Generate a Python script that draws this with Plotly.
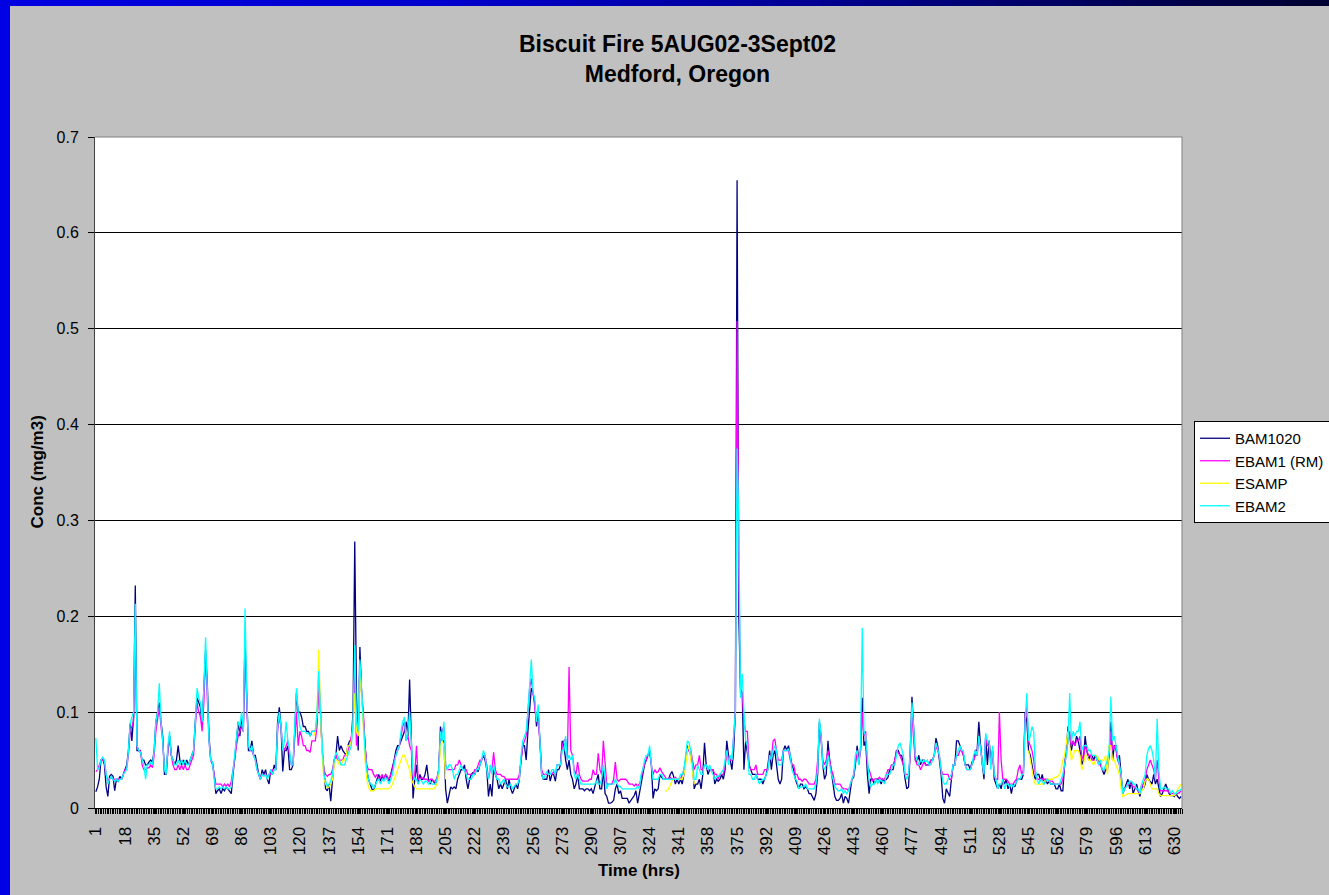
import plotly.graph_objects as go

# ---------------- data ----------------
hours = list(range(1, 635))
tick_labels = [1, 18, 35, 52, 69, 86, 103, 120, 137, 154, 171, 188, 205, 222, 239, 256,
               273, 290, 307, 324, 341, 358, 375, 392, 409, 426, 443, 460, 477, 494, 511,
               528, 545, 562, 579, 596, 613, 630]

bam1020 = [
    0.017, 0.022, 0.030, 0.050, 0.052, 0.045, 0.022, 0.012, 0.033, 0.035,
    0.033, 0.018, 0.030, 0.028, 0.033, 0.030, 0.035, 0.040, 0.045, 0.060,
    0.088, 0.070, 0.095, 0.232, 0.060, 0.060, 0.058, 0.050, 0.050, 0.045,
    0.045, 0.048, 0.050, 0.048, 0.060, 0.090, 0.100, 0.110, 0.090, 0.075,
    0.035, 0.035, 0.060, 0.075, 0.055, 0.050, 0.045, 0.050, 0.065, 0.050,
    0.045, 0.050, 0.045, 0.050, 0.045, 0.050, 0.055, 0.060, 0.090, 0.115,
    0.110, 0.105, 0.085, 0.120, 0.165, 0.130, 0.075, 0.050, 0.048, 0.035,
    0.015, 0.018, 0.020, 0.015, 0.020, 0.018, 0.022, 0.020, 0.018, 0.015,
    0.035, 0.050, 0.070, 0.090, 0.075, 0.095, 0.080, 0.178, 0.120, 0.060,
    0.060, 0.070, 0.055, 0.055, 0.045, 0.035, 0.030, 0.040, 0.035, 0.040,
    0.030, 0.025, 0.040, 0.035, 0.045, 0.040, 0.090, 0.105, 0.085, 0.038,
    0.060, 0.060, 0.065, 0.040, 0.040, 0.045, 0.080, 0.120, 0.100, 0.100,
    0.095, 0.085, 0.085, 0.080, 0.080, 0.075, 0.080, 0.080, 0.080, 0.090,
    0.140, 0.100, 0.060, 0.040, 0.020, 0.018, 0.025, 0.007, 0.025, 0.050,
    0.055, 0.075, 0.060, 0.065, 0.060, 0.058, 0.055, 0.065, 0.070, 0.070,
    0.100, 0.278, 0.120, 0.060, 0.168, 0.120, 0.090, 0.060, 0.040, 0.030,
    0.025, 0.020, 0.018, 0.025, 0.030, 0.035, 0.028, 0.033, 0.030, 0.035,
    0.030, 0.028, 0.035, 0.040, 0.050, 0.060, 0.065, 0.065, 0.070, 0.075,
    0.080, 0.090, 0.075, 0.134, 0.060, 0.010, 0.030, 0.045, 0.025, 0.035,
    0.030, 0.030, 0.035, 0.045, 0.030, 0.025, 0.030, 0.028, 0.025, 0.030,
    0.040, 0.085, 0.070, 0.070, 0.020, 0.005, 0.015, 0.022, 0.020, 0.022,
    0.020, 0.030, 0.035, 0.040, 0.040, 0.045, 0.030, 0.020, 0.030, 0.035,
    0.037, 0.035, 0.040, 0.038, 0.045, 0.050, 0.055, 0.050, 0.040, 0.012,
    0.025, 0.012, 0.040, 0.035, 0.030, 0.020, 0.025, 0.020, 0.025, 0.030,
    0.020, 0.030, 0.020, 0.015, 0.020, 0.025, 0.020, 0.030, 0.050, 0.065,
    0.065, 0.050, 0.080, 0.100, 0.125, 0.120, 0.110, 0.085, 0.100, 0.070,
    0.035, 0.030, 0.030, 0.030, 0.040, 0.028, 0.035, 0.035, 0.028, 0.040,
    0.040, 0.045, 0.070, 0.065, 0.050, 0.040, 0.050, 0.035, 0.030, 0.020,
    0.025, 0.035, 0.020, 0.020, 0.020, 0.018, 0.020, 0.020, 0.018, 0.020,
    0.015, 0.022, 0.030, 0.035, 0.020, 0.020, 0.040, 0.015, 0.012, 0.005,
    0.005, 0.006, 0.008, 0.020, 0.025, 0.015, 0.018, 0.010, 0.010, 0.010,
    0.010, 0.005, 0.008, 0.010, 0.013, 0.018, 0.005, 0.015, 0.025, 0.035,
    0.045, 0.050, 0.055, 0.060, 0.045, 0.010, 0.020, 0.018, 0.020, 0.035,
    0.032, 0.030, 0.030, 0.030, 0.030, 0.035, 0.038, 0.033, 0.025, 0.030,
    0.025, 0.030, 0.025, 0.035, 0.050, 0.065, 0.060, 0.055, 0.045, 0.020,
    0.025, 0.025, 0.030, 0.020, 0.035, 0.068, 0.045, 0.035, 0.040, 0.040,
    0.040, 0.025, 0.030, 0.028, 0.030, 0.035, 0.030, 0.040, 0.070, 0.055,
    0.050, 0.040, 0.060, 0.100, 0.655, 0.200, 0.125, 0.120, 0.040, 0.070,
    0.055, 0.045, 0.040, 0.035, 0.035, 0.035, 0.030, 0.030, 0.030, 0.025,
    0.030, 0.035, 0.045, 0.060, 0.040, 0.055, 0.060, 0.045, 0.030, 0.025,
    0.030, 0.060, 0.065, 0.060, 0.065, 0.055, 0.045, 0.040, 0.030, 0.025,
    0.020, 0.025, 0.025, 0.020, 0.022, 0.020, 0.015, 0.015, 0.012, 0.008,
    0.015, 0.035, 0.090, 0.075, 0.045, 0.030, 0.035, 0.070, 0.050, 0.035,
    0.025, 0.012, 0.008, 0.008, 0.010, 0.015, 0.005, 0.012, 0.010, 0.005,
    0.018, 0.030, 0.032, 0.045, 0.065, 0.050, 0.060, 0.115, 0.065, 0.070,
    0.035, 0.015, 0.030, 0.030, 0.025, 0.030, 0.030, 0.030, 0.025, 0.030,
    0.028, 0.030, 0.032, 0.040, 0.040, 0.040, 0.050, 0.060, 0.060, 0.055,
    0.055, 0.045, 0.030, 0.020, 0.022, 0.060, 0.116, 0.075, 0.050, 0.048,
    0.055, 0.045, 0.050, 0.050, 0.045, 0.045, 0.045, 0.050, 0.050, 0.055,
    0.073, 0.065, 0.050, 0.035, 0.010, 0.005, 0.020, 0.015, 0.012, 0.030,
    0.045, 0.045, 0.070, 0.070, 0.065, 0.060, 0.055, 0.045, 0.045, 0.045,
    0.040, 0.048, 0.050, 0.060, 0.060, 0.090, 0.065, 0.050, 0.030, 0.075,
    0.045, 0.070, 0.050, 0.060, 0.030, 0.025, 0.020, 0.025, 0.020, 0.030,
    0.025, 0.030, 0.020, 0.025, 0.015, 0.025, 0.022, 0.028, 0.030, 0.030,
    0.030, 0.035, 0.100, 0.090, 0.060, 0.055, 0.045, 0.035, 0.030, 0.035,
    0.035, 0.028, 0.035, 0.025, 0.030, 0.025, 0.028, 0.025, 0.025, 0.025,
    0.020, 0.020, 0.025, 0.018, 0.018, 0.045, 0.060, 0.085, 0.070, 0.060,
    0.070, 0.065, 0.075, 0.070, 0.060, 0.045, 0.050, 0.075, 0.060, 0.050,
    0.055, 0.055, 0.050, 0.055, 0.050, 0.050, 0.045, 0.040, 0.035, 0.040,
    0.040, 0.055, 0.090, 0.050, 0.065, 0.065, 0.050, 0.055, 0.035, 0.015,
    0.020, 0.025, 0.030, 0.020, 0.028, 0.015, 0.020, 0.025, 0.018, 0.012,
    0.025, 0.020, 0.025, 0.035, 0.030, 0.028, 0.025, 0.035, 0.025, 0.030,
    0.020, 0.012, 0.015, 0.020, 0.025, 0.020, 0.015, 0.013, 0.013, 0.012,
    0.015, 0.012, 0.010, 0.012,
]

ebam1_rm = [
    0.038, 0.040, 0.045, 0.050, 0.050, 0.048, 0.035, 0.028, 0.030, 0.032,
    0.030, 0.030, 0.030, 0.030, 0.030, 0.030, 0.035, 0.040, 0.042, 0.055,
    0.080, 0.085, 0.090, 0.180, 0.065, 0.060, 0.060, 0.045, 0.040, 0.040,
    0.042, 0.042, 0.045, 0.042, 0.055, 0.080, 0.095, 0.105, 0.085, 0.070,
    0.040, 0.035, 0.060, 0.075, 0.055, 0.045, 0.040, 0.040, 0.045, 0.040,
    0.045, 0.040, 0.045, 0.040, 0.040, 0.045, 0.050, 0.055, 0.085, 0.110,
    0.100, 0.095, 0.080, 0.110, 0.160, 0.120, 0.070, 0.050, 0.045, 0.035,
    0.025, 0.025, 0.025, 0.025, 0.022, 0.025, 0.023, 0.025, 0.022, 0.028,
    0.040, 0.050, 0.065, 0.075, 0.080, 0.085, 0.080, 0.165, 0.110, 0.065,
    0.060, 0.060, 0.055, 0.050, 0.040, 0.035, 0.030, 0.035, 0.035, 0.035,
    0.032, 0.035, 0.035, 0.040, 0.040, 0.040, 0.080, 0.095, 0.085, 0.065,
    0.060, 0.065, 0.070, 0.055, 0.045, 0.045, 0.080, 0.100, 0.065, 0.080,
    0.075, 0.065, 0.065, 0.060, 0.060, 0.058, 0.070, 0.070, 0.070, 0.085,
    0.130, 0.100, 0.060, 0.040, 0.035, 0.033, 0.035, 0.035, 0.040, 0.050,
    0.055, 0.050, 0.050, 0.050, 0.050, 0.055, 0.055, 0.060, 0.065, 0.075,
    0.085, 0.140, 0.065, 0.085, 0.150, 0.120, 0.100, 0.065, 0.045, 0.040,
    0.040, 0.040, 0.035, 0.032, 0.035, 0.030, 0.032, 0.035, 0.030, 0.035,
    0.033, 0.030, 0.035, 0.040, 0.050, 0.055, 0.060, 0.065, 0.075, 0.085,
    0.090, 0.070, 0.075, 0.065, 0.060, 0.030, 0.035, 0.065, 0.030, 0.030,
    0.032, 0.030, 0.030, 0.030, 0.028, 0.030, 0.030, 0.028, 0.028, 0.032,
    0.040, 0.075, 0.080, 0.085, 0.045, 0.040, 0.040, 0.040, 0.040, 0.040,
    0.045, 0.045, 0.050, 0.045, 0.040, 0.040, 0.040, 0.035, 0.035, 0.035,
    0.035, 0.040, 0.040, 0.045, 0.050, 0.050, 0.055, 0.055, 0.045, 0.030,
    0.040, 0.040, 0.058, 0.040, 0.035, 0.035, 0.035, 0.033, 0.033, 0.030,
    0.030, 0.030, 0.030, 0.030, 0.030, 0.030, 0.030, 0.035, 0.050, 0.065,
    0.070, 0.075, 0.100, 0.125, 0.135, 0.120, 0.110, 0.090, 0.090, 0.070,
    0.040, 0.035, 0.035, 0.035, 0.035, 0.035, 0.035, 0.038, 0.035, 0.045,
    0.045, 0.045, 0.065, 0.070, 0.072, 0.050, 0.147, 0.060, 0.055, 0.040,
    0.035, 0.048, 0.035, 0.030, 0.028, 0.028, 0.028, 0.028, 0.030, 0.030,
    0.040, 0.035, 0.035, 0.057, 0.040, 0.035, 0.070, 0.045, 0.025, 0.025,
    0.025, 0.025, 0.030, 0.048, 0.030, 0.028, 0.030, 0.030, 0.030, 0.030,
    0.028, 0.025, 0.025, 0.025, 0.023, 0.025, 0.023, 0.025, 0.030, 0.040,
    0.045, 0.050, 0.055, 0.060, 0.045, 0.035, 0.040, 0.037, 0.038, 0.042,
    0.038, 0.035, 0.032, 0.030, 0.030, 0.032, 0.030, 0.030, 0.032, 0.030,
    0.030, 0.030, 0.035, 0.040, 0.050, 0.060, 0.060, 0.060, 0.050, 0.040,
    0.045, 0.045, 0.055, 0.040, 0.040, 0.045, 0.045, 0.040, 0.040, 0.040,
    0.040, 0.035, 0.035, 0.030, 0.035, 0.035, 0.035, 0.045, 0.060, 0.050,
    0.050, 0.050, 0.075, 0.100, 0.508, 0.250, 0.120, 0.120, 0.090, 0.080,
    0.080, 0.045, 0.040, 0.040, 0.040, 0.045, 0.035, 0.035, 0.035, 0.035,
    0.040, 0.040, 0.040, 0.055, 0.050, 0.070, 0.072, 0.060, 0.050, 0.050,
    0.050, 0.060, 0.060, 0.060, 0.060, 0.050, 0.045, 0.045, 0.035, 0.035,
    0.030, 0.030, 0.028, 0.030, 0.030, 0.028, 0.025, 0.025, 0.025, 0.025,
    0.030, 0.050, 0.080, 0.070, 0.050, 0.045, 0.050, 0.060, 0.050, 0.040,
    0.035, 0.025, 0.025, 0.025, 0.025, 0.022, 0.020, 0.020, 0.020, 0.018,
    0.025, 0.030, 0.035, 0.050, 0.060, 0.045, 0.060, 0.100, 0.075, 0.080,
    0.045, 0.040, 0.035, 0.028, 0.030, 0.030, 0.030, 0.032, 0.030, 0.030,
    0.030, 0.035, 0.040, 0.040, 0.045, 0.045, 0.050, 0.060, 0.058, 0.055,
    0.050, 0.045, 0.035, 0.035, 0.035, 0.055, 0.100, 0.070, 0.050, 0.045,
    0.045, 0.040, 0.045, 0.048, 0.045, 0.045, 0.045, 0.050, 0.050, 0.055,
    0.065, 0.060, 0.055, 0.040, 0.035, 0.035, 0.035, 0.035, 0.030, 0.030,
    0.045, 0.045, 0.055, 0.055, 0.060, 0.060, 0.055, 0.045, 0.040, 0.040,
    0.040, 0.045, 0.050, 0.055, 0.055, 0.070, 0.065, 0.045, 0.040, 0.075,
    0.065, 0.065, 0.045, 0.060, 0.035, 0.030, 0.030, 0.100, 0.050, 0.030,
    0.030, 0.030, 0.028, 0.025, 0.025, 0.025, 0.028, 0.030, 0.040, 0.045,
    0.035, 0.040, 0.095, 0.105, 0.070, 0.065, 0.060, 0.050, 0.035, 0.030,
    0.030, 0.030, 0.030, 0.030, 0.030, 0.030, 0.028, 0.028, 0.028, 0.025,
    0.025, 0.025, 0.025, 0.025, 0.030, 0.045, 0.055, 0.070, 0.080, 0.065,
    0.070, 0.065, 0.070, 0.070, 0.075, 0.055, 0.050, 0.065, 0.060, 0.055,
    0.055, 0.050, 0.050, 0.050, 0.050, 0.045, 0.045, 0.040, 0.040, 0.040,
    0.045, 0.055, 0.080, 0.060, 0.065, 0.060, 0.050, 0.045, 0.030, 0.020,
    0.020, 0.022, 0.025, 0.025, 0.025, 0.022, 0.022, 0.020, 0.018, 0.015,
    0.022, 0.025, 0.030, 0.040, 0.045, 0.050, 0.045, 0.040, 0.030, 0.050,
    0.030, 0.018, 0.018, 0.018, 0.018, 0.018, 0.016, 0.015, 0.015, 0.015,
    0.015, 0.015, 0.016, 0.018,
]

# ESAMP recorded only in three stretches (first hour of each stretch given)
esamp_start_a = 128
esamp_a = [
    0.075, 0.080, 0.100, 0.165, 0.100, 0.055, 0.030, 0.025, 0.021, 0.022, 0.025, 0.030, 0.045,
    0.050, 0.050, 0.045, 0.045, 0.050, 0.050, 0.055, 0.065, 0.065, 0.070,
    0.085, 0.120, 0.080, 0.075, 0.145, 0.120, 0.085, 0.050, 0.030, 0.022,
    0.018, 0.018, 0.018, 0.020, 0.020, 0.020, 0.020, 0.020, 0.020, 0.020,
    0.020, 0.020, 0.022, 0.025, 0.030, 0.035, 0.040, 0.045, 0.050, 0.055,
    0.055, 0.050, 0.045, 0.040, 0.030, 0.025, 0.022, 0.020, 0.020, 0.020,
    0.020, 0.020, 0.020, 0.020, 0.020, 0.020, 0.020, 0.020, 0.022, 0.025,
    0.035, 0.065, 0.070, 0.065, 0.030,
]
esamp_start_b = 333
esamp_b = [
    0.018, 0.018, 0.020, 0.025, 0.028, 0.030, 0.030, 0.030, 0.030, 0.030,
    0.030, 0.035, 0.045, 0.060, 0.065, 0.050, 0.035, 0.025,
]
esamp_start_c = 545
esamp_c = [
    0.060, 0.050, 0.040, 0.030, 0.025, 0.025,
    0.025, 0.025, 0.025, 0.028, 0.028, 0.030, 0.030, 0.030, 0.030, 0.032,
    0.032, 0.033, 0.035, 0.040, 0.050, 0.055, 0.070, 0.080, 0.065, 0.050,
    0.055, 0.060, 0.060, 0.060, 0.055, 0.040, 0.045, 0.055, 0.055, 0.050,
    0.050, 0.048, 0.045, 0.050, 0.055, 0.050, 0.050, 0.050, 0.050, 0.055,
    0.035, 0.065, 0.065, 0.050, 0.050, 0.045, 0.040, 0.035, 0.020, 0.012,
    0.013, 0.014, 0.015, 0.015, 0.015, 0.015, 0.015, 0.015, 0.015, 0.015,
    0.018, 0.020, 0.028, 0.030, 0.030, 0.025, 0.020, 0.020, 0.020, 0.020,
    0.015, 0.013, 0.013, 0.013, 0.013, 0.013, 0.013, 0.013, 0.013, 0.013,
    0.015, 0.020, 0.022, 0.025,
]

ebam2 = [
    0.073, 0.040, 0.042, 0.050, 0.053, 0.050, 0.035, 0.025, 0.030, 0.033,
    0.030, 0.028, 0.030, 0.028, 0.030, 0.030, 0.035, 0.038, 0.040, 0.060,
    0.088, 0.095, 0.100, 0.213, 0.065, 0.060, 0.058, 0.050, 0.045, 0.030,
    0.045, 0.045, 0.048, 0.045, 0.060, 0.090, 0.100, 0.130, 0.090, 0.070,
    0.040, 0.035, 0.065, 0.080, 0.055, 0.050, 0.045, 0.045, 0.050, 0.045,
    0.050, 0.045, 0.050, 0.045, 0.045, 0.050, 0.055, 0.060, 0.090, 0.125,
    0.115, 0.110, 0.090, 0.125, 0.178, 0.120, 0.070, 0.050, 0.048, 0.030,
    0.020, 0.020, 0.022, 0.020, 0.022, 0.020, 0.022, 0.020, 0.020, 0.022,
    0.040, 0.055, 0.070, 0.090, 0.085, 0.100, 0.080, 0.208, 0.120, 0.065,
    0.060, 0.065, 0.055, 0.050, 0.040, 0.035, 0.030, 0.035, 0.033, 0.035,
    0.030, 0.035, 0.040, 0.035, 0.040, 0.040, 0.085, 0.100, 0.085, 0.060,
    0.070, 0.090, 0.070, 0.060, 0.045, 0.045, 0.090, 0.125, 0.100, 0.085,
    0.080, 0.080, 0.080, 0.078, 0.078, 0.075, 0.080, 0.080, 0.080, 0.100,
    0.143, 0.100, 0.060, 0.035, 0.028, 0.022, 0.025, 0.028, 0.035, 0.050,
    0.058, 0.055, 0.050, 0.045, 0.045, 0.045, 0.050, 0.055, 0.060, 0.065,
    0.090, 0.170, 0.090, 0.080, 0.155, 0.120, 0.090, 0.060, 0.040, 0.030,
    0.025, 0.025, 0.020, 0.025, 0.028, 0.030, 0.025, 0.030, 0.028, 0.032,
    0.030, 0.025, 0.030, 0.035, 0.045, 0.055, 0.060, 0.065, 0.080, 0.090,
    0.095, 0.070, 0.080, 0.100, 0.070, 0.035, 0.030, 0.030, 0.025, 0.030,
    0.028, 0.025, 0.028, 0.028, 0.025, 0.028, 0.025, 0.025, 0.025, 0.030,
    0.040, 0.080, 0.070, 0.090, 0.045, 0.040, 0.045, 0.045, 0.040, 0.030,
    0.035, 0.035, 0.040, 0.045, 0.040, 0.040, 0.035, 0.030, 0.030, 0.030,
    0.035, 0.035, 0.040, 0.040, 0.045, 0.050, 0.060, 0.055, 0.040, 0.030,
    0.045, 0.035, 0.045, 0.035, 0.030, 0.030, 0.025, 0.028, 0.030, 0.025,
    0.022, 0.022, 0.025, 0.020, 0.022, 0.025, 0.025, 0.030, 0.055, 0.070,
    0.075, 0.080, 0.100, 0.130, 0.155, 0.120, 0.115, 0.090, 0.108, 0.070,
    0.035, 0.030, 0.035, 0.038, 0.035, 0.035, 0.040, 0.040, 0.035, 0.045,
    0.045, 0.045, 0.060, 0.060, 0.075, 0.050, 0.055, 0.050, 0.055, 0.035,
    0.030, 0.035, 0.030, 0.025, 0.025, 0.025, 0.025, 0.025, 0.025, 0.025,
    0.025, 0.025, 0.028, 0.025, 0.025, 0.030, 0.045, 0.030, 0.020, 0.025,
    0.025, 0.025, 0.025, 0.030, 0.025, 0.022, 0.022, 0.020, 0.020, 0.020,
    0.020, 0.020, 0.020, 0.020, 0.020, 0.020, 0.023, 0.020, 0.035, 0.040,
    0.050, 0.055, 0.055, 0.065, 0.045, 0.030, 0.030, 0.030, 0.030, 0.035,
    0.035, 0.030, 0.030, 0.030, 0.030, 0.030, 0.030, 0.030, 0.030, 0.030,
    0.030, 0.035, 0.035, 0.040, 0.055, 0.070, 0.068, 0.060, 0.045, 0.030,
    0.030, 0.045, 0.040, 0.035, 0.035, 0.045, 0.045, 0.040, 0.045, 0.038,
    0.035, 0.030, 0.033, 0.033, 0.035, 0.038, 0.040, 0.050, 0.060, 0.045,
    0.055, 0.050, 0.075, 0.100, 0.375, 0.300, 0.115, 0.140, 0.100, 0.070,
    0.065, 0.035, 0.035, 0.030, 0.030, 0.035, 0.030, 0.025, 0.028, 0.030,
    0.030, 0.035, 0.040, 0.055, 0.050, 0.060, 0.065, 0.060, 0.045, 0.045,
    0.045, 0.060, 0.060, 0.060, 0.062, 0.055, 0.040, 0.035, 0.030, 0.028,
    0.020, 0.022, 0.022, 0.022, 0.025, 0.020, 0.020, 0.020, 0.020, 0.020,
    0.025, 0.040, 0.093, 0.075, 0.045, 0.040, 0.045, 0.055, 0.045, 0.035,
    0.030, 0.022, 0.020, 0.018, 0.018, 0.020, 0.015, 0.018, 0.015, 0.018,
    0.025, 0.030, 0.035, 0.055, 0.060, 0.045, 0.065, 0.188, 0.080, 0.075,
    0.050, 0.030, 0.022, 0.025, 0.025, 0.030, 0.025, 0.030, 0.028, 0.028,
    0.025, 0.035, 0.035, 0.035, 0.040, 0.045, 0.045, 0.055, 0.065, 0.068,
    0.060, 0.055, 0.035, 0.030, 0.035, 0.060, 0.110, 0.075, 0.055, 0.050,
    0.045, 0.050, 0.048, 0.050, 0.048, 0.050, 0.045, 0.045, 0.050, 0.055,
    0.068, 0.060, 0.055, 0.040, 0.028, 0.025, 0.025, 0.030, 0.032, 0.035,
    0.045, 0.045, 0.055, 0.060, 0.065, 0.060, 0.060, 0.045, 0.040, 0.040,
    0.040, 0.045, 0.055, 0.060, 0.055, 0.075, 0.060, 0.045, 0.035, 0.078,
    0.070, 0.070, 0.040, 0.065, 0.035, 0.030, 0.020, 0.025, 0.025, 0.030,
    0.020, 0.025, 0.025, 0.022, 0.025, 0.022, 0.025, 0.028, 0.030, 0.030,
    0.035, 0.035, 0.090, 0.120, 0.070, 0.075, 0.085, 0.080, 0.040, 0.030,
    0.025, 0.030, 0.028, 0.025, 0.028, 0.030, 0.028, 0.025, 0.025, 0.025,
    0.025, 0.025, 0.025, 0.030, 0.035, 0.045, 0.055, 0.070, 0.120, 0.070,
    0.080, 0.075, 0.080, 0.080, 0.090, 0.060, 0.065, 0.065, 0.065, 0.060,
    0.060, 0.055, 0.055, 0.055, 0.050, 0.045, 0.050, 0.040, 0.040, 0.045,
    0.050, 0.060, 0.116, 0.070, 0.075, 0.065, 0.055, 0.045, 0.035, 0.015,
    0.020, 0.022, 0.025, 0.028, 0.028, 0.025, 0.025, 0.020, 0.020, 0.015,
    0.025, 0.030, 0.035, 0.055, 0.062, 0.065, 0.060, 0.050, 0.030, 0.093,
    0.040, 0.020, 0.020, 0.022, 0.020, 0.020, 0.020, 0.015, 0.018, 0.015,
    0.015, 0.018, 0.018, 0.020,
]

# ---------------- build ESAMP series with gaps ----------------
esamp = [None] * len(hours)
for start, seg in ((esamp_start_a, esamp_a), (esamp_start_b, esamp_b), (esamp_start_c, esamp_c)):
    for i, v in enumerate(seg):
        idx = start - 1 + i
        if idx < len(esamp):
            esamp[idx] = v

FONT = "Arial, 'Liberation Sans', sans-serif"

fig = go.Figure()
series = [
    ("BAM1020", bam1020, "#000080"),
    ("EBAM1 (RM)", ebam1_rm, "#FF00FF"),
    ("ESAMP", esamp, "#FFFF00"),
    ("EBAM2", ebam2, "#00FFFF"),
]
for name, vals, col in series:
    fig.add_trace(go.Scatter(
        x=hours[:len(vals)], y=vals, mode="lines", name=name,
        line=dict(color=col, width=1.3), connectgaps=False,
    ))

W, H = 1329, 895
L, R, T, B = 95, 1182, 137, 808
pw, ph = R - L, B - T

def px_x(x):
    return (x - L) / pw

def px_y(y):
    return (B - y) / ph

shapes = []
# left blue slide border
shapes.append(dict(type="rect", xref="paper", yref="paper",
                   x0=px_x(0), x1=px_x(10), y0=px_y(H), y1=px_y(0),
                   fillcolor="#0000E6", line=dict(width=0), layer="above"))
# top gradient strip
stops = [(0, (0, 0, 226)), (450, (0, 0, 205)), (700, (0, 0, 165)),
         (900, (0, 0, 130)), (1100, (0, 0, 90)), (1329, (0, 0, 48))]
nseg = 60
for k in range(nseg):
    xa = W * k / nseg
    xb = W * (k + 1) / nseg
    xm = (xa + xb) / 2
    for j in range(len(stops) - 1):
        if stops[j][0] <= xm <= stops[j + 1][0]:
            t = (xm - stops[j][0]) / (stops[j + 1][0] - stops[j][0])
            c = [round(stops[j][1][m] + t * (stops[j + 1][1][m] - stops[j][1][m])) for m in range(3)]
            break
    shapes.append(dict(type="rect", xref="paper", yref="paper",
                       x0=px_x(xa), x1=px_x(xb + 1), y0=px_y(6), y1=px_y(0),
                       fillcolor=f"rgb({c[0]},{c[1]},{c[2]})", line=dict(width=0), layer="above"))
# plot-area frame (top & right)
shapes.append(dict(type="line", xref="paper", yref="paper", x0=0, x1=1, y0=1, y1=1,
                   line=dict(color="#808080", width=1), layer="above"))
shapes.append(dict(type="line", xref="paper", yref="paper", x0=1, x1=1, y0=0, y1=1,
                   line=dict(color="#808080", width=1), layer="above"))

annotations = [
    dict(text="<b>Biscuit Fire 5AUG02-3Sept02<br>Medford, Oregon</b>",
         xref="paper", yref="paper", x=px_x(677), y=px_y(59.5),
         xanchor="center", yanchor="middle", showarrow=False,
         font=dict(family=FONT, size=23, color="black")),
    dict(text="<b>Conc (mg/m3)</b>", xref="paper", yref="paper",
         x=px_x(37), y=0.5, textangle=-90, xanchor="center", yanchor="middle",
         showarrow=False, font=dict(family=FONT, size=17, color="black")),
    dict(text="<b>Time (hrs)</b>", xref="paper", yref="paper",
         x=0.5, y=px_y(870), xanchor="center", yanchor="middle",
         showarrow=False, font=dict(family=FONT, size=17, color="black")),
]

fig.update_layout(
    width=W, height=H,
    margin=dict(l=L, r=W - R, t=T, b=H - B, pad=0, autoexpand=False),
    paper_bgcolor="#C0C0C0", plot_bgcolor="white",
    font=dict(family=FONT, color="black"),
    shapes=shapes, annotations=annotations,
    showlegend=True,
    legend=dict(x=px_x(1194), y=px_y(421), xanchor="left", yanchor="top",
                bgcolor="white", bordercolor="black", borderwidth=1,
                font=dict(family=FONT, size=15, color="black"),
                itemwidth=30, tracegroupgap=0),
)
fig.update_xaxes(
    range=[0.5, len(hours) + 0.5], tickmode="array",
    tickvals=tick_labels, ticktext=[str(v) for v in tick_labels],
    tickangle=-90, tickfont=dict(family=FONT, size=17, color="black"),
    ticks="outside", ticklen=5, tickcolor="black", ticklabelstandoff=6,
    minor=dict(tickmode="linear", tick0=0.5, dtick=1, ticks="outside",
               ticklen=5, tickcolor="black", showgrid=False),
    showline=True, linecolor="black", linewidth=1, mirror=False,
    showgrid=False, zeroline=False,
)
fig.update_yaxes(
    range=[0, 0.7], tickmode="linear", tick0=0, dtick=0.1,
    tickfont=dict(family=FONT, size=16, color="black"),
    ticks="outside", ticklen=6, tickcolor="black", ticklabelstandoff=6,
    showline=True, linecolor="#404040", linewidth=1,
    showgrid=True, gridcolor="black", gridwidth=1, zeroline=False,
)

fig.write_html("out.html")
